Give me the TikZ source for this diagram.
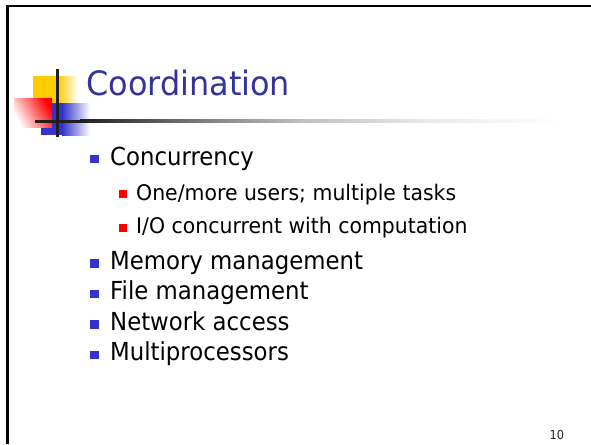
\documentclass[tikz,border=0pt]{standalone}
\usepackage{fontspec}
\setmainfont{DejaVu Sans}[FakeStretch=0.92]
\newfontfamily\titlefont{DejaVu Sans}[FakeStretch=0.95]
\newfontfamily\subfont{DejaVu Sans}[FakeStretch=0.95]
\definecolor{titleblue}{HTML}{333399}
\definecolor{bulletblue}{HTML}{3333CC}
\definecolor{bulletred}{HTML}{FF0000}
\definecolor{logoyellow}{HTML}{FFCC00}
\definecolor{logoblue}{HTML}{3333CC}
\definecolor{logored}{HTML}{FF0000}
\tikzset{
  titletext/.style={anchor=base west, inner sep=0pt, text=titleblue,
    font=\titlefont\fontsize{33.6}{40}\selectfont},
  itemtext/.style={anchor=base west, inner sep=0pt, text=black,
    font=\fontsize{24.8}{30}\selectfont},
  subtext/.style={anchor=base west, inner sep=0pt, text=black,
    font=\subfont\fontsize{21.5}{26}\selectfont},
  mainsq/.style={fill=bulletblue, inner sep=0pt, minimum size=8.5pt},
  subsq/.style={fill=bulletred, inner sep=0pt, minimum size=7.2pt},
  pagenum/.style={anchor=base west, inner sep=0pt, text=black!85,
    font=\fontsize{12.4}{15}\selectfont},
}
\begin{document}
\begin{tikzpicture}[x=1pt, y=-1pt]
\useasboundingbox (0,0) rectangle (591,444);
\fill[white] (0,0) rectangle (591,444);

% slide frame
\draw[line width=2.3pt, black] (7.5,444) -- (7.5,6.2) -- (591,6.2);

% logo: yellow block
\fill[logoyellow] (33,76) rectangle (58,104);
\shade[left color=logoyellow, right color=white] (57.9,76) rectangle (78,104);
% logo: blue block
\fill[logoblue] (41,103) rectangle (62,135);
\shade[left color=logoblue, right color=white] (61.9,103) rectangle (90,135);
% logo: red block
\shade[shading=axis, top color=logored, bottom color=white, shading angle=-60]
  (14,98) rectangle (52,127);

% rule under the title, fading out to the right
\fill[black!88] (35,119.9) rectangle (80,122.6);
\shade[left color=black!88, right color=black!52] (79.9,119.9) rectangle (200,122.6);
\shade[left color=black!52, right color=black!25] (199.9,119.9) rectangle (300,122.6);
\shade[left color=black!25, right color=black!9] (299.9,119.9) rectangle (420,122.6);
\shade[left color=black!9, right color=white] (419.9,119.9) rectangle (560,122.6);

% logo: vertical bar
\fill[black!88] (56,69) rectangle (58.6,137);

% title
\node[titletext] (title) at (86,95) {Coordination};

% first-level items
\node[mainsq] (bq1) at (94.5,159) {};
\node[itemtext] (it1) at (110,165) {Concurrency};
\node[subsq] (sq1) at (123,194) {};
\node[subtext] (st1) at (136,200) {One/more users; multiple tasks};
\node[subsq] (sq2) at (123,228) {};
\node[subtext] (st2) at (136,233.5) {I/O concurrent with computation};
\node[mainsq] (bq2) at (94.5,263.5) {};
\node[itemtext] (it2) at (110,269) {Memory management};
\node[mainsq] (bq3) at (94.5,294) {};
\node[itemtext] (it3) at (110,299.5) {File management};
\node[mainsq] (bq4) at (94.5,324.5) {};
\node[itemtext] (it4) at (110,330) {Network access};
\node[mainsq] (bq5) at (94.5,355) {};
\node[itemtext] (it5) at (110,360.5) {Multiprocessors};

% slide number
\node[pagenum] (page) at (549.5,439) {10};
\end{tikzpicture}
\end{document}
